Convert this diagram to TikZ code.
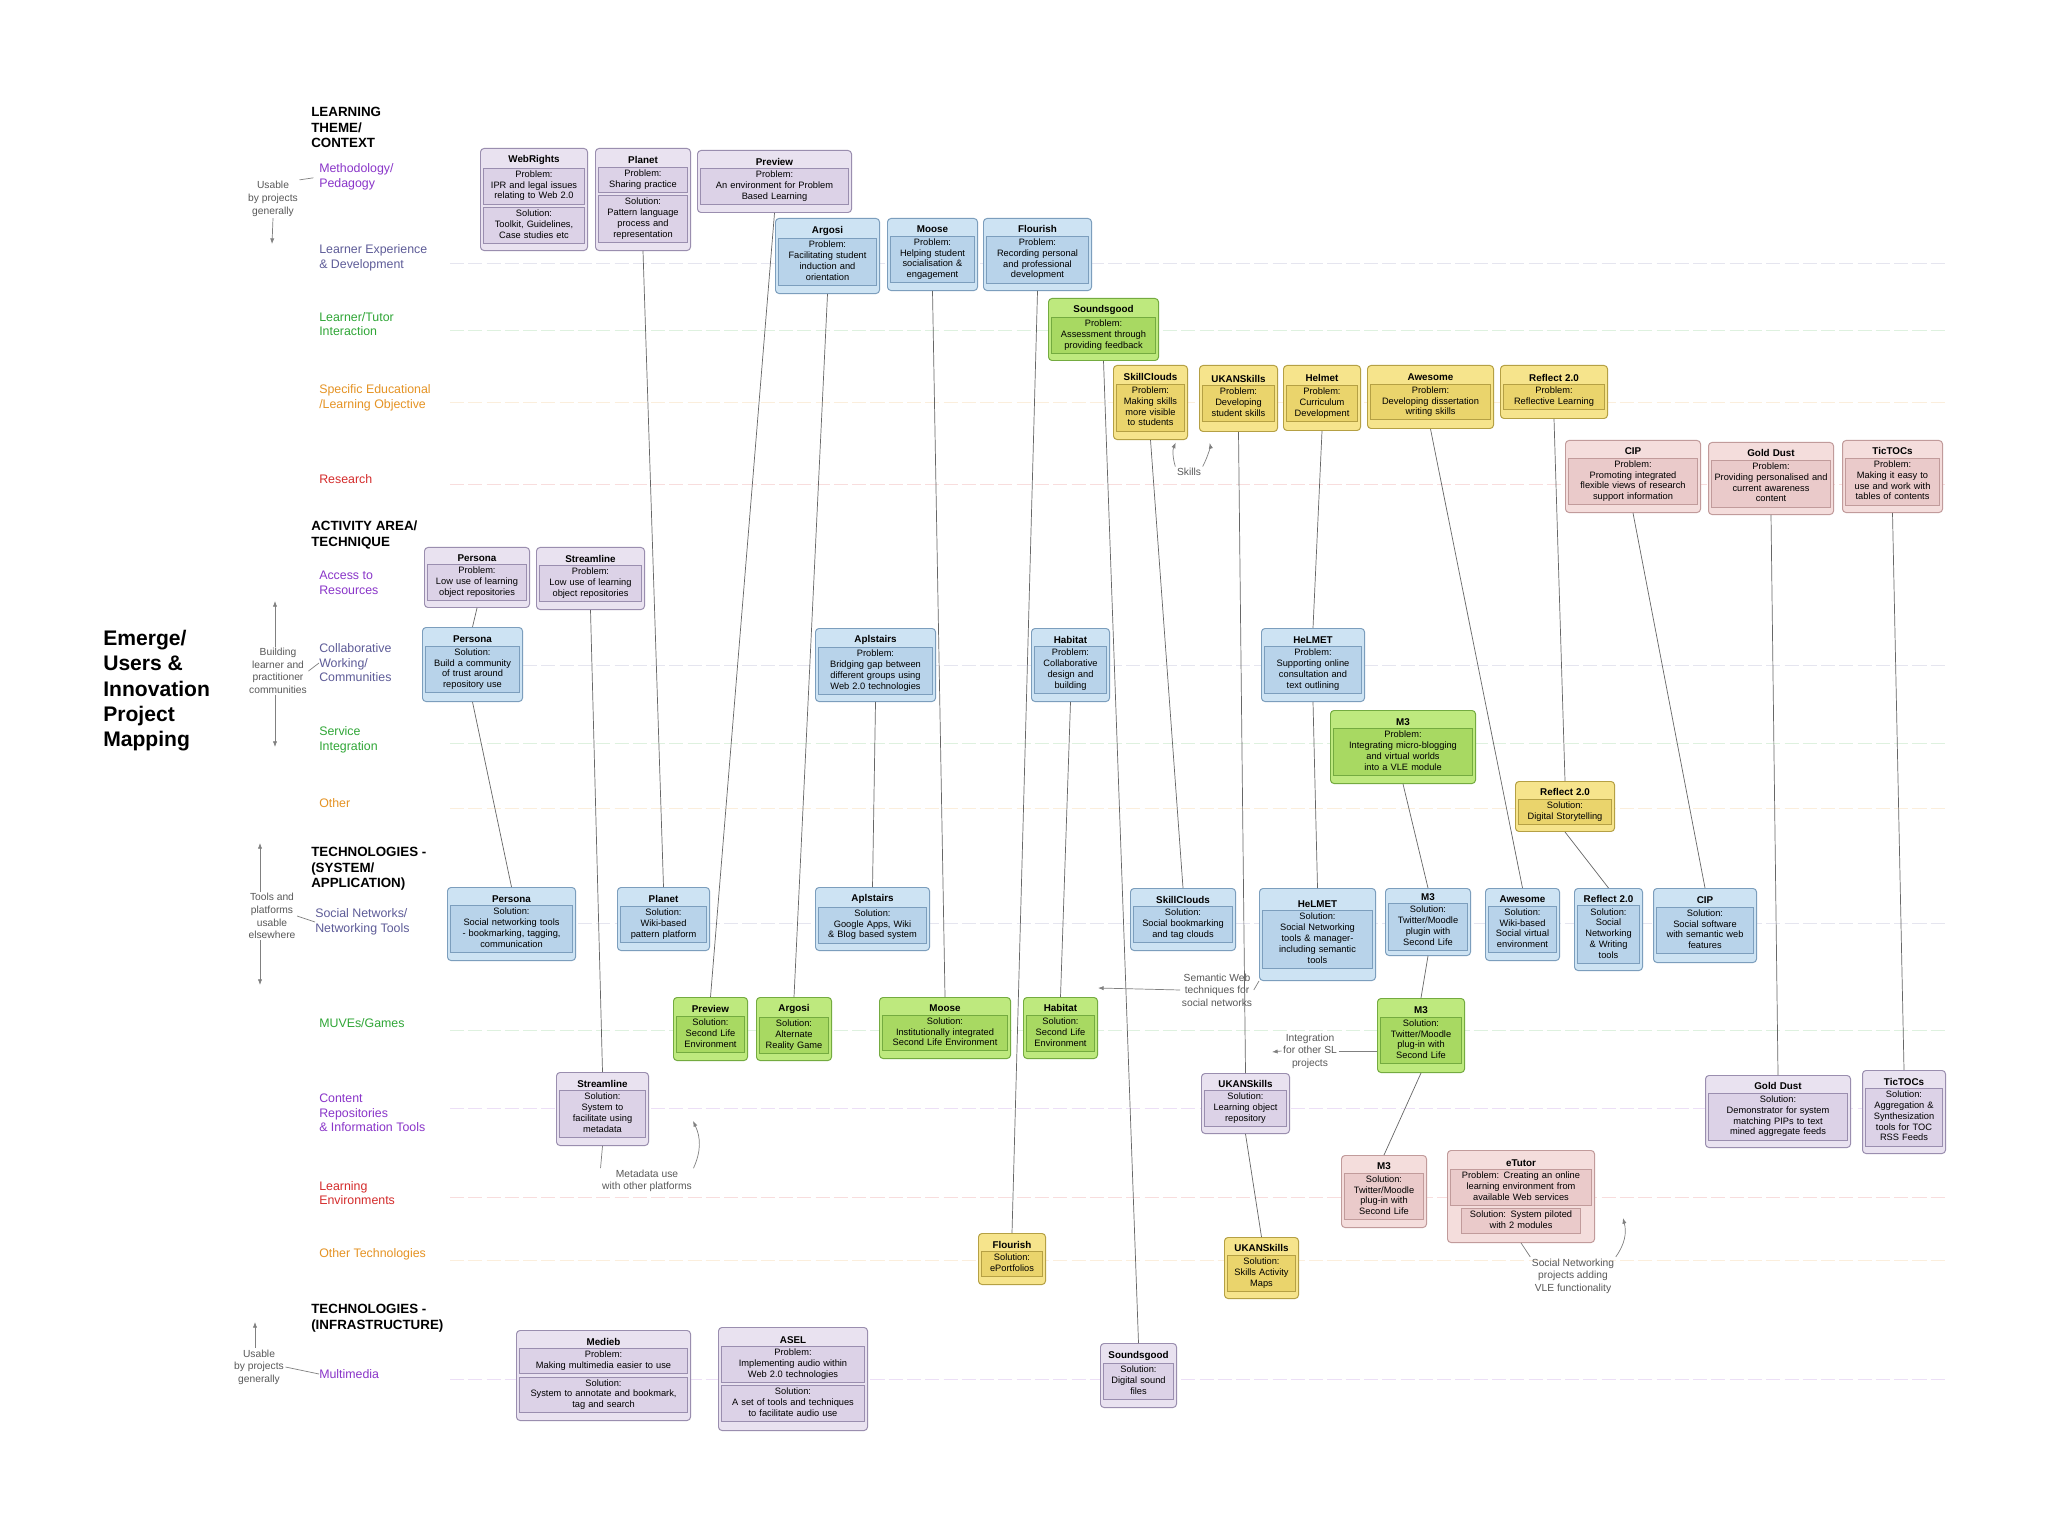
\documentclass[tikz,border=0pt]{standalone}
\usepackage{fontspec}
\setmainfont{Liberation Sans}
\usepackage{xcolor}
\usepackage{tikz}
\usetikzlibrary{positioning,arrows.meta}

\definecolor{purfill}{HTML}{E9E2F0}
\definecolor{purpan}{HTML}{DCD2E7}
\definecolor{purline}{HTML}{9A8EAF}
\definecolor{blufill}{HTML}{CDE3F3}
\definecolor{blupan}{HTML}{B8D3EA}
\definecolor{bluline}{HTML}{7C9EBD}
\definecolor{grnfill}{HTML}{BEE97E}
\definecolor{grnpan}{HTML}{A8D962}
\definecolor{grnline}{HTML}{74AB40}
\definecolor{ylwfill}{HTML}{F6E48C}
\definecolor{ylwpan}{HTML}{EAD46C}
\definecolor{ylwline}{HTML}{B5A044}
\definecolor{pnkfill}{HTML}{F4DDDC}
\definecolor{pnkpan}{HTML}{EACACA}
\definecolor{pnkline}{HTML}{C19B9B}
\definecolor{catpur}{HTML}{8A35C9}
\definecolor{catsla}{HTML}{5E5C98}
\definecolor{catgrn}{HTML}{2FA636}
\definecolor{catorg}{HTML}{E59324}
\definecolor{catred}{HTML}{D42B2B}
\colorlet{panfill}{purpan}
\colorlet{panline}{purline}

\setlength{\fboxsep}{1pt}
\setlength{\fboxrule}{0.4pt}
\newcommand{\boxfont}{\fontsize{6.6}{7.7}\selectfont}
\newcommand{\bt}[1]{{\fontsize{7}{7.7}\selectfont\bfseries #1}}
\newcommand{\panel}[2][\linewidth]{\fcolorbox{panline}{panfill}{\makebox[\dimexpr#1-2\fboxsep-2\fboxrule\relax][c]{\begin{tabular}{@{}c@{}}#2\end{tabular}}}}

\begin{document}
\begin{tikzpicture}[x=0.025cm, y=-0.025cm]
\tikzset{
    pbox/.style={draw=#1line, fill=#1fill, rounded corners=2.5pt, line width=0.7pt, anchor=north west, align=center, inner xsep=0.07cm, inner ysep=2pt, font=\boxfont, execute at begin node={\colorlet{panfill}{#1pan}\colorlet{panline}{#1line}}},
    rowlab/.style={anchor=west, align=left, inner sep=0pt, text=#1, font=\fontsize{8.8}{10.3}\selectfont},
    headlab/.style={anchor=north west, align=left, inner sep=0pt, font=\bfseries\fontsize{9.5}{11}\selectfont},
    notelab/.style={align=center, inner sep=1pt, text=black!65, font=\fontsize{7.3}{9}\selectfont},
    rowline/.style={draw=#1!16, dash pattern=on 10pt off 3pt, line width=0.6pt},
    projlink/.style={draw=black!60, line width=0.5pt},
    annline/.style={draw=black!50, line width=0.5pt},
    annarrow/.style={annline, -{Latex[length=4pt,width=3pt]}}
}
\path[use as bounding box, fill=white] (0,0) rectangle (2048,1536);

\foreach \yy/\cc in {263/catsla,330/catgrn,402/catorg,484/catred,665/catsla,743/catgrn,808/catorg,923/catsla,1030/catgrn,1108/catpur,1197/catred,1260/catorg,1379/catpur}
    \draw[rowline=\cc] (450,\yy) -- (1945,\yy);

\node[anchor=north west, align=left, inner sep=0pt, font=\bfseries\fontsize{15}{18}\selectfont] (maptitle) at (103,630) {Emerge/\\Users \&\\Innovation\\Project\\Mapping};

\node[headlab] (themehd) at (311,107) {LEARNING\\THEME/\\CONTEXT};
\node[headlab] (activityhd) at (311,521) {ACTIVITY AREA/\\TECHNIQUE};
\node[headlab] (systemhd) at (311,847) {TECHNOLOGIES -\\(SYSTEM/\\APPLICATION)};
\node[headlab] (infrahd) at (311,1304) {TECHNOLOGIES -\\(INFRASTRUCTURE)};

\node[rowlab=catpur] (methlab) at (319,177) {Methodology/\\Pedagogy};
\node[rowlab=catsla] (learnlab) at (319,258) {Learner Experience\\\& Development};
\node[rowlab=catgrn] (tutorlab) at (319,324) {Learner/Tutor\\Interaction};
\node[rowlab=catorg] (objlab) at (319,398) {Specific Educational\\/Learning Objective};
\node[rowlab=catred] (reslab) at (319,479) {Research};
\node[rowlab=catpur] (accesslab) at (319,583) {Access to\\Resources};
\node[rowlab=catsla] (collablab) at (319,663) {Collaborative\\Working/\\Communities};
\node[rowlab=catgrn] (servlab) at (319,740) {Service\\Integration};
\node[rowlab=catorg] (otherlab) at (319,803) {Other};
\node[rowlab=catsla] (soclab) at (315,922) {Social Networks/\\Networking Tools};
\node[rowlab=catgrn] (muvelab) at (319,1023) {MUVEs/Games};
\node[rowlab=catpur] (contlab) at (319,1113) {Content\\Repositories\\\& Information Tools};
\node[rowlab=catred] (envlab) at (319,1193) {Learning\\Environments};
\node[rowlab=catorg] (othtechlab) at (319,1254) {Other Technologies};
\node[rowlab=catpur] (multlab) at (319,1374) {Multimedia};

\node[pbox=pur, text width=2.535cm, minimum height=2.55cm] (webrights) at (480,148) {\bt{WebRights}\\[1pt]\panel{Problem:\\IPR and legal issues\\relating to Web 2.0}\\[1pt]\panel{Solution:\\Toolkit, Guidelines,\\Case studies etc}};
\node[pbox=pur, text width=2.235cm, minimum height=2.55cm] (planet) at (595,148) {\bt{Planet}\\[1pt]\panel{Problem:\\Sharing practice}\\[1pt]\panel{Solution:\\Pattern language\\process and\\representation}};
\node[pbox=pur, text width=3.71cm, minimum height=1.55cm] (preview) at (697,150) {\bt{Preview}\\[1pt]\panel{Problem:\\An environment for Problem\\Based Learning}};
\node[pbox=blu, text width=2.46cm, minimum height=1.875cm] (argosi) at (775,218) {\bt{Argosi}\\[1pt]\panel{Problem:\\Facilitating student\\induction and\\orientation}};
\node[pbox=blu, text width=2.11cm, minimum height=1.8cm] (moose) at (887,218) {\bt{Moose}\\[1pt]\panel{Problem:\\Helping student\\socialisation \&\\engagement}};
\node[pbox=blu, text width=2.56cm, minimum height=1.8cm] (flourish) at (983,218) {\bt{Flourish}\\[1pt]\panel{Problem:\\Recording personal\\and professional\\development}};
\node[pbox=grn, text width=2.61cm, minimum height=1.55cm] (soundsgood) at (1048,298) {\bt{Soundsgood}\\[1pt]\panel{Problem:\\Assessment through\\providing feedback}};
\node[pbox=ylw, text width=1.71cm, minimum height=1.85cm] (skillY) at (1113,365) {\bt{SkillClouds}\\[1pt]\panel{Problem:\\Making skills\\more visible\\to students}};
\node[pbox=ylw, text width=1.81cm, minimum height=1.65cm] (ukanY) at (1199,365) {\bt{UKANSkills}\\[1pt]\panel{Problem:\\Developing\\student skills}};
\node[pbox=ylw, text width=1.785cm, minimum height=1.625cm] (helmetY) at (1283,365) {\bt{Helmet}\\[1pt]\panel{Problem:\\Curriculum\\Development}};
\node[pbox=ylw, text width=3.01cm, minimum height=1.575cm] (awesomeY) at (1367,365) {\bt{Awesome}\\[1pt]\panel{Problem:\\Developing dissertation\\writing skills}};
\node[pbox=ylw, text width=2.535cm, minimum height=1.325cm] (reflectY) at (1500,365) {\bt{Reflect 2.0}\\[1pt]\panel{Problem:\\Reflective Learning}};
\node[pbox=pnk, text width=3.235cm, minimum height=1.8cm] (cip) at (1565,440) {\bt{CIP}\\[1pt]\panel{Problem:\\Promoting integrated\\flexible views of research\\support information}};
\node[pbox=pnk, text width=2.985cm, minimum height=1.8cm] (golddust) at (1708,442) {\bt{Gold Dust}\\[1pt]\panel{Problem:\\Providing personalised and\\current awareness\\content}};
\node[pbox=pnk, text width=2.36cm, minimum height=1.8cm] (tictocs) at (1842,440) {\bt{TicTOCs}\\[1pt]\panel{Problem:\\Making it easy to\\use and work with\\tables of contents}};

\node[pbox=pur, text width=2.485cm, minimum height=1.5cm] (personaA) at (424,547) {\bt{Persona}\\[1pt]\panel{Problem:\\Low use of learning\\object repositories}};
\node[pbox=pur, text width=2.56cm, minimum height=1.55cm] (streamA) at (536,547) {\bt{Streamline}\\[1pt]\panel{Problem:\\Low use of learning\\object repositories}};
\node[pbox=blu, text width=2.36cm, minimum height=1.85cm] (personaB) at (422,627) {\bt{Persona}\\[1pt]\panel{Solution:\\Build a community\\of trust around\\repository use}};
\node[pbox=blu, text width=2.86cm, minimum height=1.825cm] (aplstairs) at (815,628) {\bt{Aplstairs}\\[1pt]\panel{Problem:\\Bridging gap between\\different groups using\\Web 2.0 technologies}};
\node[pbox=blu, text width=1.81cm, minimum height=1.825cm] (habitat) at (1031,628) {\bt{Habitat}\\[1pt]\panel{Problem:\\Collaborative\\design and\\building}};
\node[pbox=blu, text width=2.435cm, minimum height=1.825cm] (helmet) at (1261,628) {\bt{HeLMET}\\[1pt]\panel{Problem:\\Supporting online\\consultation and\\text outlining}};
\node[pbox=grn, text width=3.485cm, minimum height=1.825cm] (m3A) at (1330,710) {\bt{M3}\\[1pt]\panel{Problem:\\Integrating micro-blogging\\and virtual worlds\\into a VLE module}};
\node[pbox=ylw, text width=2.335cm, minimum height=1.25cm] (reflectS) at (1515,781) {\bt{Reflect 2.0}\\[1pt]\panel{Solution:\\Digital Storytelling}};

\node[pbox=blu, text width=3.06cm, minimum height=1.825cm] (personaT) at (447,887) {\bt{Persona}\\[1pt]\panel{Solution:\\Social networking tools\\- bookmarking, tagging,\\communication}};
\node[pbox=blu, text width=2.16cm, minimum height=1.575cm] (planetT) at (617,887) {\bt{Planet}\\[1pt]\panel{Solution:\\Wiki-based\\pattern platform}};
\node[pbox=blu, text width=2.71cm, minimum height=1.575cm] (aplstairsT) at (815,887) {\bt{Aplstairs}\\[1pt]\panel{Solution:\\Google Apps, Wiki\\\& Blog based system}};
\node[pbox=blu, text width=2.485cm, minimum height=1.55cm] (skillT) at (1130,888) {\bt{SkillClouds}\\[1pt]\panel{Solution:\\Social bookmarking\\and tag clouds}};
\node[pbox=blu, text width=2.76cm, minimum height=2.3cm] (helmetT) at (1259,888) {\bt{HeLMET}\\[1pt]\panel{Solution:\\Social Networking\\tools \& manager-\\including semantic\\tools}};
\node[pbox=blu, text width=1.985cm, minimum height=1.675cm] (m3T) at (1385,888) {\bt{M3}\\[1pt]\panel{Solution:\\Twitter/Moodle\\plugin with\\Second Life}};
\node[pbox=blu, text width=1.71cm, minimum height=1.8cm] (awesomeT) at (1485,888) {\bt{Awesome}\\[1pt]\panel{Solution:\\Wiki-based\\Social virtual\\environment}};
\node[pbox=blu, text width=1.56cm, minimum height=2.05cm] (reflectT) at (1574,888) {\bt{Reflect 2.0}\\[1pt]\panel{Solution:\\Social\\Networking\\\& Writing\\tools}};
\node[pbox=blu, text width=2.435cm, minimum height=1.85cm] (cipT) at (1653,888) {\bt{CIP}\\[1pt]\panel{Solution:\\Social software\\with semantic web\\features}};

\node[pbox=grn, text width=1.71cm, minimum height=1.575cm] (previewG) at (673,997) {\bt{Preview}\\[1pt]\panel{Solution:\\Second Life\\Environment}};
\node[pbox=grn, text width=1.735cm, minimum height=1.575cm] (argosiG) at (756,997) {\bt{Argosi}\\[1pt]\panel{Solution:\\Alternate\\Reality Game}};
\node[pbox=grn, text width=3.135cm, minimum height=1.525cm] (mooseG) at (879,997) {\bt{Moose}\\[1pt]\panel{Solution:\\Institutionally integrated\\Second Life Environment}};
\node[pbox=grn, text width=1.71cm, minimum height=1.525cm] (habitatG) at (1023,997) {\bt{Habitat}\\[1pt]\panel{Solution:\\Second Life\\Environment}};
\node[pbox=grn, text width=2.035cm, minimum height=1.85cm] (m3G) at (1377,998) {\bt{M3}\\[1pt]\panel{Solution:\\Twitter/Moodle\\plug-in with\\Second Life}};

\node[pbox=pur, text width=2.16cm, minimum height=1.825cm] (streamC) at (556,1072) {\bt{Streamline}\\[1pt]\panel{Solution:\\System to\\facilitate using\\metadata}};
\node[pbox=pur, text width=2.06cm, minimum height=1.5cm] (ukanC) at (1201,1073) {\bt{UKANSkills}\\[1pt]\panel{Solution:\\Learning object\\repository}};
\node[pbox=pur, text width=3.485cm, minimum height=1.8cm] (golddustC) at (1705,1075) {\bt{Gold Dust}\\[1pt]\panel{Solution:\\Demonstrator for system\\matching PIPs to text\\mined aggregate feeds}};
\node[pbox=pur, text width=1.935cm, minimum height=2.075cm] (tictocsC) at (1862,1070) {\bt{TicTOCs}\\[1pt]\panel{Solution:\\Aggregation \&\\Synthesization\\tools for TOC\\RSS Feeds}};

\node[pbox=pnk, text width=1.985cm, minimum height=1.8cm] (m3P) at (1341,1155) {\bt{M3}\\[1pt]\panel{Solution:\\Twitter/Moodle\\plug-in with\\Second Life}};
\node[pbox=pnk, text width=3.535cm, minimum height=2.3cm] (etutor) at (1447,1150) {\bt{eTutor}\\[1pt]\panel{Problem: Creating an online\\learning environment from\\available Web services}\\[1pt]\panel[3.0cm]{Solution: System piloted\\with 2 modules}};

\node[pbox=ylw, text width=1.535cm, minimum height=1.275cm] (flourishY) at (978,1233) {\bt{Flourish}\\[1pt]\panel{Solution:\\ePortfolios}};
\node[pbox=ylw, text width=1.71cm, minimum height=1.525cm] (ukanT) at (1224,1237) {\bt{UKANSkills}\\[1pt]\panel{Solution:\\Skills Activity\\Maps}};

\node[pbox=pur, text width=4.21cm, minimum height=2.25cm] (medieb) at (516,1330) {\bt{Medieb}\\[1pt]\panel{Problem:\\Making multimedia easier to use}\\[1pt]\panel{Solution:\\System to annotate and bookmark,\\tag and search}};
\node[pbox=pur, text width=3.585cm, minimum height=2.575cm] (asel) at (718,1327) {\bt{ASEL}\\[1pt]\panel{Problem:\\Implementing audio within\\Web 2.0 technologies}\\[1pt]\panel{Solution:\\A set of tools and techniques\\to facilitate audio use}};
\node[pbox=pur, text width=1.76cm, minimum height=1.6cm] (soundsM) at (1100,1343) {\bt{Soundsgood}\\[1pt]\panel{Solution:\\Digital sound\\files}};

\draw[projlink] (planet.south) -- (planetT.north);
\draw[projlink] (preview.south) -- (previewG.north);
\draw[projlink] (argosi.south) -- (argosiG.north);
\draw[projlink] (moose.south) -- (mooseG.north);
\draw[projlink] (flourish.south) -- (flourishY.north);
\draw[projlink] (soundsgood.south) -- (soundsM.north);
\draw[projlink] (skillY.south) -- (skillT.north);
\draw[projlink] (ukanY.south) -- (ukanC.north);
\draw[projlink] (ukanC.south) -- (ukanT.north);
\draw[projlink] (helmetY.south) -- (helmet.north);
\draw[projlink] (helmet.south) -- (helmetT.north);
\draw[projlink] (awesomeY.south) -- (awesomeT.north);
\draw[projlink] (reflectY.south) -- (reflectS.north);
\draw[projlink] (reflectS.south) -- (reflectT.north);
\draw[projlink] (cip.south) -- (cipT.north);
\draw[projlink] (golddust.south) -- (golddustC.north);
\draw[projlink] (tictocs.south) -- (tictocsC.north);
\draw[projlink] (personaA.south) -- (personaB.north);
\draw[projlink] (personaB.south) -- (personaT.north);
\draw[projlink] (streamA.south) -- (streamC.north);
\draw[projlink] (aplstairs.south) -- (aplstairsT.north);
\draw[projlink] (habitat.south) -- (habitatG.north);
\draw[projlink] (m3A.south) -- (m3T.north);
\draw[projlink] (m3T.south) -- (m3G.north);
\draw[projlink] (m3G.south) -- (m3P.north);

\node[notelab] (use1) at (273,199) {Usable\\by projects\\generally};
\coordinate (use1end) at (272,244);
\draw[annline, shorten >=4pt] (use1.north east) -- (methlab.west);
\draw[annarrow] (use1.south) -- (use1end);

\coordinate (buildup) at (275,601);
\coordinate (builddn) at (275,747);
\node[notelab] (build) at (278,671) {Building\\learner and\\practitioner\\communities};
\draw[annarrow] (build.north -| buildup) -- (buildup);
\draw[annarrow] (build.south -| builddn) -- (builddn);
\draw[annline] (build.east) -- (collablab.west);

\coordinate (toolsup) at (260,843);
\coordinate (toolsdn) at (260,985);
\node[notelab] (tools) at (272,916) {Tools and\\platforms\\usable\\elsewhere};
\draw[annarrow] (tools.north -| toolsup) -- (toolsup);
\draw[annarrow] (tools.south -| toolsdn) -- (toolsdn);
\draw[annline] (tools.east) -- (soclab.west);

\coordinate (use2up) at (255,1322);
\node[notelab] (use2) at (259,1367) {Usable\\by projects\\generally};
\draw[annarrow] (use2.north -| use2up) -- (use2up);
\draw[annline] (use2.east) -- (multlab.west);

\node[notelab] (skills) at (1189,472) {Skills};
\draw[annarrow, shorten >=2pt] (skills.north west) to[bend left=20] (skillY.-55);
\draw[annarrow, shorten >=8pt] (skills.north east) to[bend right=20] (ukanY.-133);

\node[notelab] (semweb) at (1217,990) {Semantic Web\\techniques for\\social networks};
\coordinate (semend) at (1098,988);
\draw[annarrow] (semweb.west) -- (semend);
\draw[annline] (semweb.east) -- (helmetT.south west);

\node[notelab] (integ) at (1310,1051) {Integration\\for other SL\\projects};
\coordinate (integend) at (1272,1052);
\draw[annarrow] (integ.west) -- (integend);
\draw[annline] (integ.east) -- (integ.east -| m3G.west);

\node[notelab] (meta) at (647,1181) {Metadata use\\with other platforms};
\coordinate (metaend) at (693,1121);
\draw[annline] (meta.north west) -- (streamC.south);
\draw[annarrow] (meta.north east) to[bend right=25] (metaend);

\node[notelab] (snvle) at (1573,1276) {Social Networking\\projects adding\\VLE functionality};
\coordinate (snend) at (1623,1218);
\draw[annline] (snvle.north west) -- (etutor.south);
\draw[annarrow] (snvle.north east) to[bend right=25] (snend);
\end{tikzpicture}
\end{document}
